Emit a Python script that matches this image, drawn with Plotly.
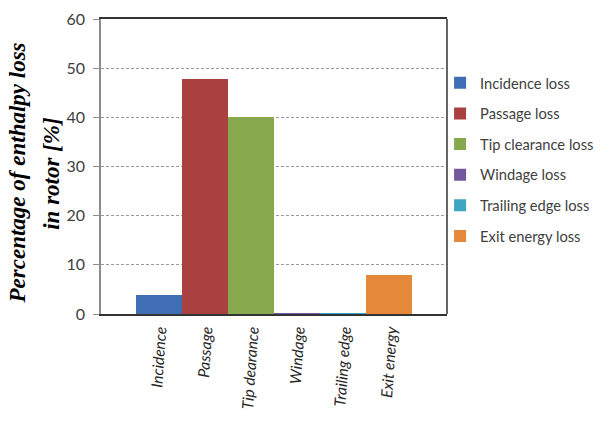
import plotly.graph_objects as go

# Rotor enthalpy loss breakdown
categories = ["Incidence", "Passage", "Tip dearance", "Windage", "Trailing edge", "Exit energy"]
series_names = ["Incidence loss", "Passage loss", "Tip clearance loss",
                "Windage loss", "Trailing edge loss", "Exit energy loss"]
loss_percent = [3.9, 47.7, 40.0, 0.05, 0.15, 7.9]
bar_colors = ["#3F6EB4", "#A8413F", "#88A84D", "#7557A0", "#3EA6C0", "#E5883A"]
y_ticks = [0, 10, 20, 30, 40, 50, 60]
y_title_lines = ["Percentage of enthalpy loss", "in rotor [%]"]

fig = go.Figure()
for i, (cat, name, val, col) in enumerate(zip(categories, series_names, loss_percent, bar_colors)):
    fig.add_trace(go.Bar(
        x=[cat], y=[val], name=name, width=1.0,
        marker=dict(color=col, line=dict(width=0)),
        legendgroup=f"g{i}",
    ))

fig.update_layout(
    width=610, height=426,
    margin=dict(l=101, r=163, t=9, b=112),
    paper_bgcolor="white", plot_bgcolor="white",
    barmode="overlay", bargap=0,
    showlegend=True,
    legend=dict(
        x=0.98, y=0.838, xanchor="left", yanchor="top",
        font=dict(family="Lato, Liberation Sans, sans-serif", size=14.7, color="#404040"),
        tracegroupgap=8.5, itemwidth=30,
        bgcolor="rgba(0,0,0,0)",
    ),
    font=dict(family="Lato, Liberation Sans, sans-serif", color="#404040"),
)

fig.update_xaxes(
    type="category", categoryorder="array", categoryarray=categories,
    range=[-1.25, 6.25],
    tickangle=-86,
    tickfont=dict(family="Lato, Liberation Sans, sans-serif", size=15.5, color="#262626", style="italic"),
    showline=True, linecolor="#333333", linewidth=1.5, mirror=True,
    ticks="", showgrid=False,
)

fig.update_yaxes(
    range=[0, 60], tickvals=y_ticks,
    tickfont=dict(family="Lato, Liberation Sans, sans-serif", size=16, color="#404040"),
    ticks="outside", ticklen=6, tickcolor="#8c8c8c", ticklabelstandoff=5,
    showline=True, linecolor="#8c8c8c", linewidth=1.5,
    showgrid=True, gridcolor="#9a9a9a", griddash="3px,2px", gridwidth=1,
    zeroline=False,
)

# right border of the plot frame
fig.add_shape(type="line", xref="paper", yref="paper", x0=1, x1=1, y0=0, y1=1,
              line=dict(color="#333333", width=1.5))

# two-line rotated y-axis title
for line_text, xp in zip(y_title_lines, [-0.2386, -0.1422]):
    fig.add_annotation(
        text=f"<b><i>{line_text}</i></b>", textangle=-90,
        xref="paper", yref="paper", x=xp, y=0.478,
        xanchor="center", yanchor="middle", showarrow=False,
        font=dict(family="Liberation Serif, Times New Roman, serif", size=23, color="black"),
    )

fig.write_html("out.html")
